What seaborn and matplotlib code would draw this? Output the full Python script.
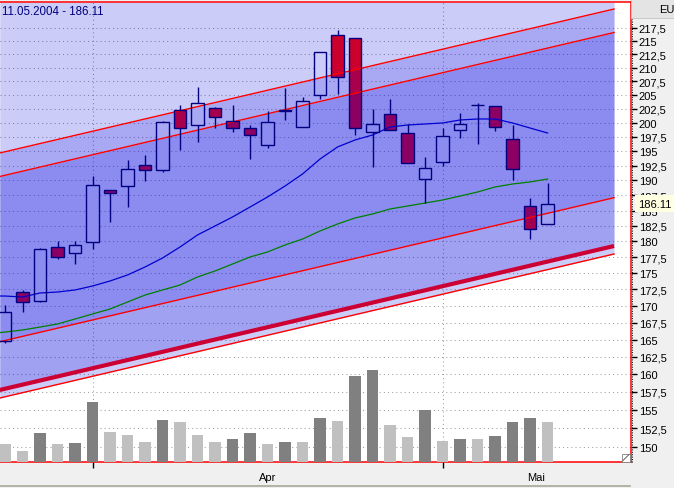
import numpy as np
import matplotlib
matplotlib.use("Agg")
import matplotlib.pyplot as plt
from matplotlib.lines import Line2D
from matplotlib.patches import Rectangle
from matplotlib.ticker import FixedLocator, FixedFormatter, NullLocator
import seaborn as sns

plt.rcParams["font.family"] = ["Liberation Sans", "DejaVu Sans"]

# --- daily sessions (Xetra, Good Friday / Easter Monday closed) ---
dates = ["25.03.2004", "26.03.2004", "29.03.2004", "30.03.2004", "31.03.2004",
         "01.04.2004", "02.04.2004", "05.04.2004", "06.04.2004", "07.04.2004",
         "08.04.2004", "13.04.2004", "14.04.2004", "15.04.2004", "16.04.2004",
         "19.04.2004", "20.04.2004", "21.04.2004", "22.04.2004", "23.04.2004",
         "26.04.2004", "27.04.2004", "28.04.2004", "29.04.2004", "30.04.2004",
         "03.05.2004", "04.05.2004", "05.05.2004", "06.05.2004", "07.05.2004",
         "10.05.2004", "11.05.2004"]
open_ = [164.78, 172.10, 170.73, 179.11, 178.16, 179.90, 188.39, 189.06, 192.62, 191.76,
         202.24, 199.57, 202.60, 200.28, 199.04, 196.06, 202.15, 199.22, 204.95, 216.15,
         215.58, 198.34, 201.53, 198.16, 190.24, 193.13, 198.69, 203.14, 202.96, 197.11,
         185.74, 182.80]
high = [170.13, 172.41, 178.95, 180.06, 180.06, 190.75, 188.39, 193.47, 194.33, 200.28,
        203.14, 206.41, 202.78, 203.14, 199.57, 202.06, 206.23, 204.59, 212.92, 217.11,
        215.58, 202.42, 204.23, 199.75, 193.99, 199.04, 201.71, 203.50, 202.96, 199.57,
        187.06, 189.57]
low = [164.49, 169.07, 170.58, 177.21, 176.43, 178.79, 183.12, 185.57, 189.90, 191.42,
       195.20, 196.58, 199.04, 198.34, 193.64, 195.54, 200.46, 199.22, 204.23, 205.13,
       197.81, 192.28, 198.69, 192.96, 186.23, 192.45, 197.28, 196.24, 198.51, 190.07,
       180.38, 182.80]
close = [169.07, 170.58, 178.79, 177.53, 179.43, 189.23, 187.89, 191.93, 191.76, 200.10,
         199.04, 203.50, 200.99, 199.04, 197.81, 200.10, 202.33, 203.86, 212.92, 208.25,
         199.04, 199.75, 198.69, 192.96, 192.11, 197.63, 199.75, 203.16, 199.22, 191.93,
         181.99, 186.11]
volume = [18, 11, 29, 18, 19, 60, 30, 27, 20, 42, 40, 27, 20, 23, 29, 18,
          20, 20, 44, 41, 86, 92, 37, 25, 52, 21, 23, 23, 26, 40, 44, 40]
vol_kind = ["light", "light", "dark", "light", "dark", "dark", "light", "light",
            "light", "dark", "light", "light", "light", "dark", "dark", "light",
            "dark", "light", "dark", "light", "dark", "dark", "light", "light",
            "dark", "light", "dark", "light", "dark", "dark", "dark", "light"]

# moving averages, first value is the session before the first candle
sma_fast = [171.49, 171.49, 171.34, 171.95, 172.10, 172.41, 173.02, 173.79, 174.72,
            175.96, 177.37, 179.11, 181.03, 182.48, 183.94, 185.57, 187.23, 189.06,
            191.09, 193.64, 195.72, 196.94, 197.81, 199.22, 199.57, 199.75, 199.93,
            200.46, 200.64, 200.64, 199.93, 199.04, 198.16]
sma_slow = [165.81, 166.10, 166.40, 166.84, 167.29, 168.03, 168.78, 169.53, 170.58,
            171.64, 172.41, 173.17, 174.41, 175.34, 176.43, 177.53, 178.32, 179.43,
            180.38, 181.67, 182.80, 183.78, 184.43, 185.25, 185.74, 186.23, 186.73,
            187.39, 188.06, 188.90, 189.40, 189.74, 190.24]

# trend channel: start / end (trading-day index) and line values
channel_x = [-0.3, 34.8]
chan_top = [194.68, 221.19]
chan_top_inner = [190.66, 216.63]
chan_bottom_inner = [164.68, 187.11]
chan_base = [157.78, 179.27]
chan_bottom = [156.66, 178.00]

price_ticks = np.arange(150, 217.6, 2.5)
month_names = {"03": "Mär", "04": "Apr", "05": "Mai"}

W, H = 674, 489
fig = plt.figure(figsize=(W / 100, H / 100), dpi=100, facecolor="#F0F0F0")
ax = fig.add_axes([0, 26 / H, 630.5 / W, 460 / H])
ax.set_facecolor("white")
ax.set_yscale("log")
ylo, yhi = 148.02, 222.57
xlo, xhi = -0.2857, 35.74

x = np.arange(len(dates))
o, h, l, c = map(np.array, (open_, high, low, close))
body_lo = np.minimum(o, c)
body_hi = np.maximum(o, c)
falling = c < o

# candle bodies (fill sits under the translucent channel)
ax.bar(x, body_hi - body_lo, bottom=body_lo, width=0.72,
       color=np.where(falling, "#FF0000", "white"), linewidth=0, zorder=1)

# channel bands
blue = "#0000DE"
ax.fill_between(channel_x, chan_top, [yhi, yhi], color=blue, alpha=0.2, lw=0, zorder=2)
ax.fill_between(channel_x, chan_top_inner, chan_top, color=blue, alpha=0.34, lw=0, zorder=2)
ax.fill_between(channel_x, chan_bottom_inner, chan_top_inner, color=blue, alpha=0.45, lw=0, zorder=2)
ax.fill_between(channel_x, chan_base, chan_bottom_inner, color=blue, alpha=0.37, lw=0, zorder=2)
ax.fill_between(channel_x, chan_bottom, chan_base, color=blue, alpha=0.2, lw=0, zorder=2)
for line in (chan_top, chan_top_inner, chan_bottom_inner, chan_bottom):
    ax.plot(channel_x, line, color="#FF0000", lw=1.0, zorder=3)
ax.plot(channel_x, chan_base, color="#CC0033", lw=3.0, zorder=3, solid_capstyle="butt")

# moving averages
ma_x = np.arange(-1, len(dates))
sns.lineplot(x=ma_x, y=sma_slow, color="#008000", lw=0.9, ax=ax, zorder=3.5)
sns.lineplot(x=ma_x, y=sma_fast, color="#0000D0", lw=0.9, ax=ax, zorder=3.5)

# wicks and body outlines
navy = "#000080"
ax.vlines(x, body_hi, h, color=navy, lw=1.0, zorder=4)
ax.vlines(x, l, body_lo, color=navy, lw=1.0, zorder=4)
ax.bar(x, body_hi - body_lo, bottom=body_lo, width=0.72, fill=False,
       edgecolor=navy, linewidth=1.0, zorder=4.5)

# axes limits / scales
ax.set_ylim(ylo, yhi)
ax.set_xlim(xlo, xhi)
ax.set_xlabel("")
ax.set_ylabel("")

# volume on a twin axis
ax2 = ax.twinx()
sns.barplot(x=x, y=volume, hue=vol_kind, palette={"dark": "#808080", "light": "#C0C0C0"},
            dodge=False, native_scale=True, width=0.66, errorbar=None, saturation=1,
            linewidth=0, legend=False, ax=ax2)
ax2.set_ylim(0, 460)
ax2.set_yticks([])
ax2.set_ylabel("")
for s in ax2.spines.values():
    s.set_visible(False)
ax2.set_xlim(xlo, xhi)

# price axis on the right
ax.yaxis.tick_right()
labels = [f"{v:.1f}".rstrip("0").rstrip(".").replace(".", ",") for v in price_ticks]
ax.yaxis.set_major_locator(FixedLocator(price_ticks))
ax.yaxis.set_major_formatter(FixedFormatter(labels))
ax.yaxis.set_minor_locator(NullLocator())
ax.tick_params(axis="y", which="major", length=4, width=1, color="black",
               pad=2, labelsize=8, right=True, left=False)

# months on the time axis
months = [d[3:5] for d in dates]
starts = [i for i in range(1, len(months)) if months[i] != months[i - 1]]
ends = starts[1:] + [xhi]
mids = [(a + b) / 2 for a, b in zip(starts, ends)]
ax.xaxis.set_major_locator(FixedLocator(starts))
ax.xaxis.set_major_formatter(FixedFormatter([""] * len(starts)))
ax.xaxis.set_minor_locator(FixedLocator(mids))
ax.xaxis.set_minor_formatter(FixedFormatter([month_names[months[i]] for i in starts]))
ax.tick_params(axis="x", which="major", length=4, width=1, color="black")
ax.tick_params(axis="x", which="minor", length=0, pad=7, labelsize=8)

# dotted grid under the channel
ax.set_axisbelow(True)
ax.yaxis.grid(True, which="major", color="#A0A0A0", lw=0.75, ls=(0, (1, 3)))
ax.xaxis.grid(True, which="major", color="#A0A0A0", lw=0.75, ls=(0, (1, 3)))

for side in ("top", "right", "bottom"):
    ax.spines[side].set_color("#FF0000")
    ax.spines[side].set_linewidth(1.1)
ax.spines["left"].set_visible(False)

# header text and last price marker
ax.text(0.003, 0.981, f"{dates[-1]} - {close[-1]:.2f}", transform=ax.transAxes,
        color=navy, fontsize=8.3, ha="left", va="center", zorder=6)
ax.annotate(f"{close[-1]:.2f}", xy=(1, close[-1]), xycoords=("axes fraction", "data"),
            xytext=(8, 0), textcoords="offset pixels", ha="left", va="center",
            fontsize=8, bbox=dict(boxstyle="square,pad=0.3", fc="#FFFFE1", ec="none"),
            annotation_clip=False, zorder=10)

# window chrome around the chart
fig.add_artist(Line2D([632 / W, 632 / W], [26 / H, 1 - 20 / H], transform=fig.transFigure,
                      color="black", lw=0.7, ls=(0, (1, 1.5))))
fig.add_artist(Rectangle((631 / W, 1 - 19 / H), 43 / W, 19 / H, transform=fig.transFigure,
                         fc="#E4E4E4", ec="#C8C8C8", lw=0.7))
fig.text(659 / W, 1 - 10 / H, "EU", fontsize=8, ha="left", va="center")
fig.add_artist(Line2D([0, 630 / W], [2 / H, 2 / H], transform=fig.transFigure,
                      color="#A8A898", lw=1.2))
# resize grip in the lower right corner of the chart
fig.add_artist(Rectangle((622 / W, 26.5 / H), 7.5 / W, 7.5 / H, transform=fig.transFigure,
                         fc="white", ec="#808080", lw=0.6))
fig.add_artist(Line2D([623 / W, 629 / W], [27.5 / H, 33.5 / H], transform=fig.transFigure,
                      color="#606060", lw=0.7))

fig.savefig("out.png", dpi=100, facecolor=fig.get_facecolor())
